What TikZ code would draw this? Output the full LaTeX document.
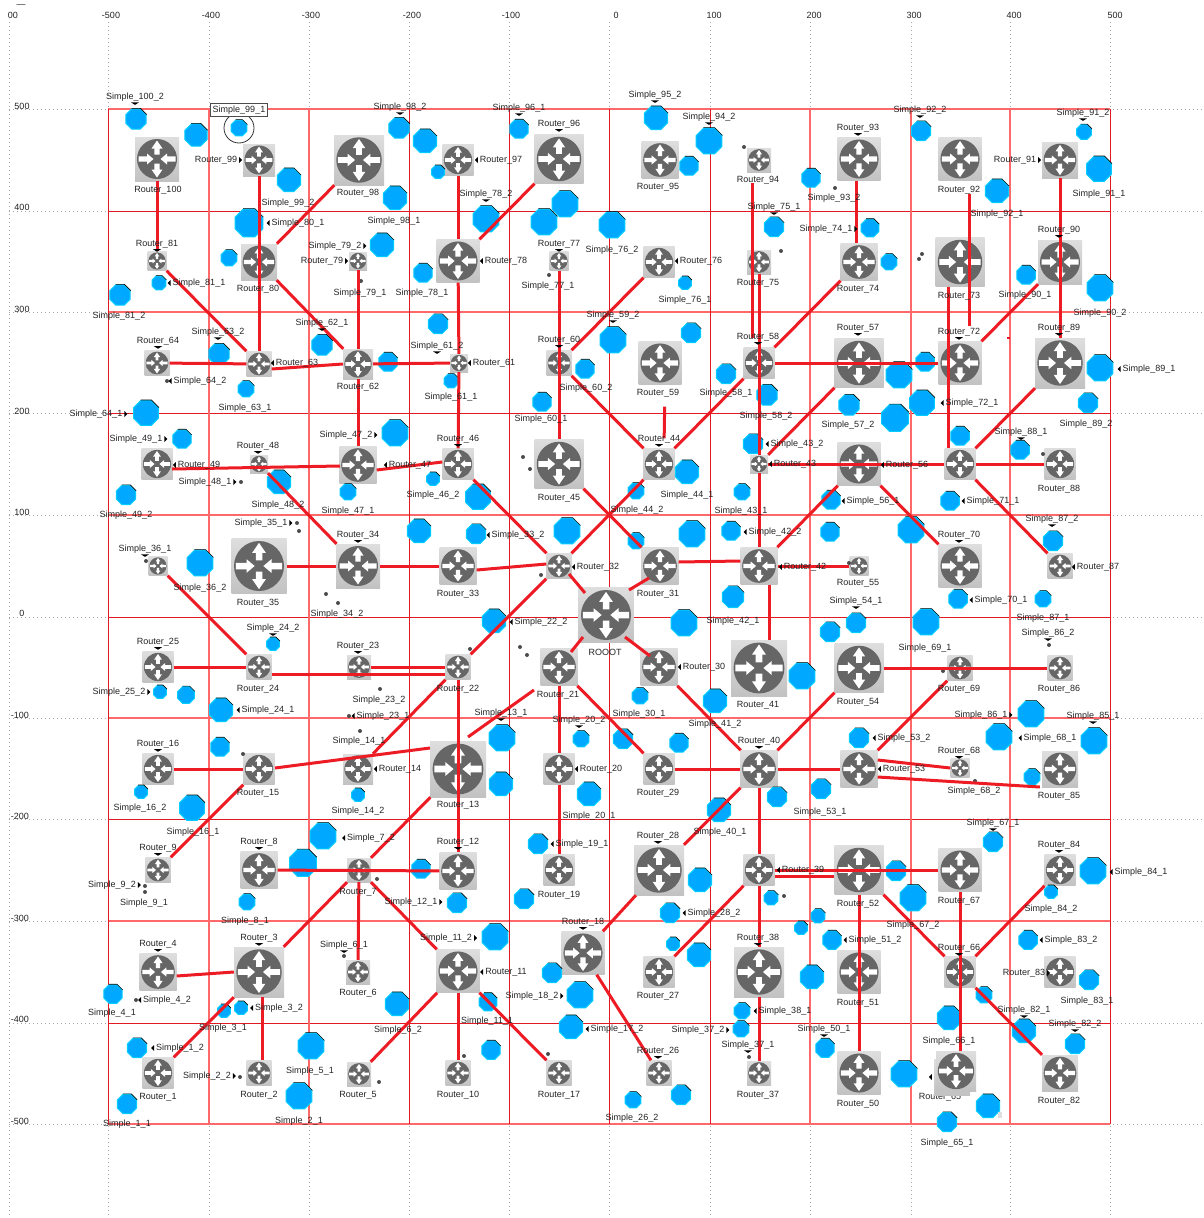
\documentclass[tikz,border=0pt]{standalone}
\usepackage{fontspec}
\setmainfont{Liberation Sans}
\usetikzlibrary{shapes.geometric}
\definecolor{linkred}{RGB}{237,28,36}
\definecolor{gridlight}{RGB}{255,105,105}
\definecolor{griddark}{RGB}{225,25,35}
\definecolor{simpleblue}{RGB}{0,168,255}
\definecolor{simpleedge}{RGB}{0,205,255}
\definecolor{facegray}{RGB}{102,102,102}
\definecolor{textgray}{RGB}{35,35,35}
\AtBeginDocument{\catcode`\_=12 }
\tikzset{
  griddot/.style={gray!70, line width=0.8pt, dash pattern=on 1pt off 3pt},
  gridsoft/.style={gridlight, line width=1.5pt},
  gridhard/.style={griddark, line width=0.9pt},
  link/.style={linkred, line width=3pt},
  lab/.style={inner sep=0pt, text=textgray, font=\fontsize{9}{11}\selectfont},
  axislab/.style={inner sep=0pt, text=textgray, font=\fontsize{9}{11}\selectfont},
  routerbox/.style={rectangle, inner sep=0pt, top color=gray!26, bottom color=gray!48},
  simplebox/.style={regular polygon, regular polygon sides=8, inner sep=0pt,
    fill=simpleblue, draw=simpleedge, line width=1pt},
  dotnode/.style={circle, inner sep=0pt, minimum size=4pt, fill=black!70},
  tipfill/.style={fill=black},
  pics/mkn/.style={code={}},
  pics/mkl/.style={code={\fill[tipfill] ([xshift=-2pt]#1.west) ++(0,-3) -- ++(0,6) -- ++(-3,-3) -- cycle;}},
  pics/mkr/.style={code={\fill[tipfill] ([xshift=2pt]#1.east) ++(0,-3) -- ++(0,6) -- ++(3,-3) -- cycle;}},
  pics/mkb/.style={code={\fill[tipfill] ([yshift=-1pt]#1.south) ++(-4,0) -- ++(8,0) -- ++(-4,2.5) -- cycle;}},
  pics/routerface/.style={code={
    \fill[facegray] (0,0) circle[radius=20];
    \foreach \a in {0,180} {
      \fill[white, rotate=\a] (-2.6,-4.5) -- (-2.6,-10.5) -- (-5.5,-10.5) -- (0,-18.5) -- (5.5,-10.5) -- (2.6,-10.5) -- (2.6,-4.5) -- cycle;
      \fill[white, rotate=\a] (-18.5,-2.6) -- (-10,-2.6) -- (-10,-5.5) -- (-3.5,0) -- (-10,5.5) -- (-10,2.6) -- (-18.5,2.6) -- cycle;
    }
  }}
}
\begin{document}
\begin{tikzpicture}[x=1pt, y=-1pt]
  \useasboundingbox (0,0) rectangle (1204,1218);

  \foreach \x in {9,108,209,309,409,509,609,710,810,911,1010,1110} {
    \draw[griddot] (\x,22) -- (\x,1218);
  }
  \foreach \y in {109,211,312,413.5,515,617,718,819.5,921,1023,1124} {
    \draw[griddot] (9,\y) -- (1204,\y);
  }
  \foreach \y in {109,312,515,718,921,1124} {
    \draw[gridsoft] (108,\y) -- (1110,\y);
  }
  \foreach \y in {211,413.5,617,819.5,1023} {
    \draw[gridhard] (108,\y) -- (1110,\y);
  }
  \foreach \x in {209,309,810,911,1010} {
    \draw[gridsoft] (\x,109) -- (\x,1124);
  }
  \foreach \x in {108,409,509,609,710,1110} {
    \draw[gridhard] (\x,109) -- (\x,1124);
  }
  \fill[griddark] (1007,337) rectangle (1010,339);

  \foreach \x/\y/\lab in {21/6/---,13/15/00,111/15/-500,211/15/-400,311/15/-300,412/15/-200,511/15/-100,616/15/0,714/15/100,814/15/200,914/15/300,1014/15/400,1115/15/500,
    22/106/500,22/207/400,22/309/300,22/411/200,22/512/100,22/613/0,20/715/-100,20/816/-200,20/918/-300,20/1019/-400,20/1121/-500} {
    \node[axislab] (ax\x-\y) at (\x,\y) {\lab};
  }

  \node[lab] (labRouter_65) at (940,1097) {Router_65};
  \node[routerbox, minimum size=36pt] (rb65) at (952,1077) {};
  \path pic {mkl={rb65}};

  \foreach \n/\x/\y/\w in {
    100/157/159/44,99/259/160/32,98/359/160/50,97/458/160/31,96/559/159/49,95/660/160/37,94/759/160/24,93/859/159/43,92/960/159/43,91/1060/160/36,
    81/157/261/19,80/259/262/36,79/358/261/18,78/458/261/43,77/559/261/19,76/659/262/31,75/759/262/24,74/859/262/37,73/960/262/49,90/1060/262/44,
    64/157/363/25,63/259/364/25,62/358/364/30,61/459/363/18,60/559/363/25,59/660/363/43,58/759/363/31,57/859/363/49,72/960/363/43,89/1060/363/50,
    49/157/464/31,48/259/464/18,47/358/465/37,46/458/464/31,45/559/464/49,44/659/464/31,43/759/464/18,56/859/464/43,71/960/464/31,88/1060/464/31,
    36/158/566/19,35/259/566/55,34/358/566/44,33/458/566/37,32/559/566/25,31/660/566/37,42/759/566/37,55/859/566/19,70/960/566/43,87/1060/566/25,
    0/606/615/55,
    25/158/667/31,24/259/667/25,23/359/667/24,22/458/667/25,21/559/667/37,30/659/667/37,41/759/668/56,54/859/668/49,69/960/668/25,86/1060/668/25,
    16/158/769/31,15/259/769/31,14/358/769/30,13/458/769/56,20/559/769/31,29/659/769/31,40/759/769/37,53/859/769/37,68/960/768/19,85/1060/769/36,
    9/158/870/25,8/259/870/37,7/359/870/24,12/458/871/37,19/559/870/31,28/659/870/50,39/759/870/31,52/859/870/49,67/960/870/43,84/1060/870/31,
    4/158/972/37,3/259/972/50,6/358/972/24,11/458/971/43,18/583/953/43,27/659/972/31,38/759/972/50,51/859/972/43,66/960/972/31,83/1060/972/31,
    1/158/1073/31,2/259/1073/25,5/359/1074/24,10/458/1073/25,17/559/1073/25,26/659/1073/25,37/759/1073/24,50/859/1073/43,65/956/1071/40,82/1060/1073/36} {
    \node[routerbox, minimum size=\w pt] (r\n) at (\x,\y) {};
    \path (\x,\y) pic[scale=\w/44] {routerface};
  }

  \foreach \x/\y/\d [count=\i] in {
    136/119/22,196/135/24,239/128/17,289/180/25,249/223/30,229/258/17,159/283/15,120/295/22,395/198/25,382/245/25,219/354/22,322/345/22,388/362/20,246/389/17,399/128/22,
    425/141/25,438/172/14,519/129/20,486/219/28,565/204/28,544/222/28,612/225/28,656/118/25,709/141/28,689/166/20,423/273/20,438/324/21,451/381/15,613/340/28,691/333/21,685/283/14,585/369/20,726/374/21,542/402/20,767/395/22,774/227/21,
    811/178/20,921/131/21,1084/132/16,1099/169/27,997/191/25,870/228/19,889/262/17,1026/275/20,1100/288/28,925/362/20,899/375/28,1100/368/28,849/405/22,922/403/27,1088/403/21,895/418/29,
    146/413/27,182/439/20,395/433/28,279/482/25,126/495/21,348/492/17,200/563/28,273/644/14,160/692/14,186/695/18,221/710/25,220/747/20,141/792/14,192/808/27,358/795/14,
    433/479/14,478/497/27,419/531/25,476/534/21,567/531/28,636/491/17,687/472/25,742/492/17,636/541/17,692/534/28,731/531/20,733/597/23,494/621/25,684/623/28,802/676/28,640/696/17,715/701/25,502/738/28,501/784/25,581/739/17,623/739/21,679/743/20,589/794/25,719/810/25,777/797/21,753/444/21,
    960/436/20,1020/450/20,831/500/20,950/501/20,830/532/20,911/530/28,1053/541/21,958/599/20,1043/599/17,830/632/21,856/623/21,926/622/28,1031/714/28,999/737/28,859/738/21,1094/741/28,1032/777/17,821/789/21,
    323/836/28,303/863/29,247/902/17,113/994/20,224/1011/14,241/1008/14,397/1004/25,137/1048/21,311/1046/28,127/1104/21,299/1096/28,
    421/869/20,457/903/21,524/899/21,538/844/21,700/880/25,670/913/21,495/937/28,673/944/14,699/955/25,552/973/21,580/995/28,488/1002/19,571/1027/25,491/1050/20,633/1100/17,681/1095/21,742/1011/17,741/1029/17,771/898/15,
    896/871/21,913/898/28,993/842/21,1093/871/28,1051/892/14,818/916/15,801/928/14,832/940/20,812/977/25,1028/940/20,1089/980/21,984/995/17,949/1018/25,1024/1031/25,1075/1044/21,825/1048/20,904/1074/28,988/1106/25,947/1122/21} {
    \node[simplebox, minimum size=\d pt] (s\i) at (\x,\y) {};
    \draw[black, line width=0.6pt] (s\i.corner 8) -- (s\i.corner 1) -- (s\i.corner 2);
  }
  \draw[black!80, line width=0.8pt] (s3) circle[radius=15];
  \fill[gray!25] (998,1112) rectangle (1002,1118);

  \foreach \x/\y [count=\i] in {
    744/147,781/251,549/275,835/188,922/254,919/259,361/281,167/381,241/482,297/523,299/531,146/561,326/594,338/603,380/689,349/716,360/731,243/754,
    523/457,530/469,541/575,470/649,520/647,527/655,1043/454,849/563,1049/645,943/671,975/781,
    145/886,145/892,377/879,344/956,136/1000,240/1077,379/1082,464/1056,548/1054,749/1057,784/896} {
    \node[dotnode] (d\i) at (\x,\y) {};
  }

  \foreach \a/\b in {100/81,98/80,97/78,96/78,91/89,90/72,89/71,74/58,76/60,58/72,58/44,57/43,60/44,77/45,81/63,80/62,64/63,62/61,79/62,78/61,61/46,62/47,48/34,46/32,45/31,44/32,35/34,34/33,75/43,43/42,56/42,43/71,71/88,71/87,56/70,42/55,22/32,36/24,25/24,23/22,22/14,22/12,16/15,15/9,21/20,21/29,20/19,29/40,30/40,40/54,40/53,40/39,40/28,53/69,54/86,39/67,39/27,39/38,38/37,28/18,18/26,8/12,7/13,7/3,7/6,7/11,3/1,11/5,11/10,11/17,52/50,52/66,84/66,66/82,99/63} {
    \draw[link] (r\a) -- (r\b);
  }
  \draw[link] (r67.south) -- ([shift={(4,0)}]r65.north);
  \draw[link, shorten <=11pt, shorten >=9pt] ([shift={(-7,0)}]r94.south) -- ([shift={(-7,0)}]r58.north);
  \draw[link] ([shift={(-3,0)}]r93.south) -- ([shift={(-3,0)}]r74.north);
  \draw[link, shorten <=13pt, shorten >=15pt] ([shift={(9,0)}]r92.south) -- ([shift={(9,0)}]r72.north);
  \draw[link] ([shift={(-12,0)}]r73.south) -- ([shift={(-12,0)}]r71.north);
  \draw[link, shorten <=22pt, shorten >=10pt] ([shift={(5,0)}]r59.south) -- ([shift={(5,0)}]r44.north);
  \draw[link] ([shift={(10,0)}]r42.south) -- ([shift={(10,0)}]r41.north);
  \draw[link] ([shift={(0,7)}]r24.east) -- ([shift={(0,7)}]r22.west);
  \draw[link] ([shift={(0,6)}]r39.east) -- ([shift={(0,6)}]r52.west);
  \draw[link] ([shift={(10,-32)}]r13.center) -- ([shift={(-25,23)}]r21.center);
  \draw[link] ([shift={(16,-1)}]r15.center) -- ([shift={(-28,-21)}]r13.center);
  \draw[link] ([shift={(15,5)}]r49.center) -- ([shift={(-18,1)}]r47.center);
  \draw[link] ([shift={(0,5)}]r63.east) -- (r62.west);
  \draw[link] ([shift={(0,4)}]r33.east) -- ([shift={(0,-2)}]r32.west);
  \draw[link] ([shift={(-11,12)}]r31.center) -- ([shift={(23,-25)}]r0.center);
  \draw[link] ([shift={(19,22)}]r0.center) -- ([shift={(-9,-11)}]r30.center);
  \draw[link] ([shift={(10,8)}]r32.center) -- ([shift={(-21,-22)}]r0.center);
  \draw[link] ([shift={(-23,22)}]r0.center) -- ([shift={(12,-15)}]r21.center);
  \draw[link] ([shift={(0,-9)}]r53.east) -- (r68.west);
  \draw[link] ([shift={(0,8)}]r53.east) -- ([shift={(-2,18)}]r85.west);
  \draw[link] ([shift={(0,-4)}]r31.east) -- ([shift={(0,-5)}]r42.west);
  \draw[link] ([shift={(0,4)}]r4.east) -- (r3.west);
  \draw[link] ([shift={(3,0)}]r3.south) -- ([shift={(3,0)}]r2.north);
  \draw[link] ([shift={(0,5)}]r47.east) -- ([shift={(0,-2)}]r46.west);

  \foreach \x/\y/\lab/\tip in {
    135/97/Simple_100_2/b,158/190/Router_100/n,216/160/Router_99/r,358/193/Router_98/n,288/203/Simple_99_2/n,298/223/Simple_80_1/l,157/244/Router_81/b,335/246/Simple_79_2/r,322/261/Router_79/r,258/289/Router_80/n,199/283/Simple_81_1/l,360/293/Simple_79_1/n,119/316/Simple_81_2/n,322/323/Simple_62_1/b,218/332/Simple_63_2/b,158/341/Router_64/b,297/363/Router_63/l,200/381/Simple_64_2/l,358/387/Router_62/n,400/107/Simple_98_2/b,394/221/Simple_98_1/n,422/293/Simple_78_1/n,
    519/108/Simple_96_1/b,559/124/Router_96/b,501/160/Router_97/l,655/95/Simple_95_2/b,709/117/Simple_94_2/b,658/187/Router_95/n,758/180/Router_94/n,486/194/Simple_78_2/b,774/207/Simple_75_1/b,559/244/Router_77/b,612/250/Simple_76_2/n,701/261/Router_76/l,506/261/Router_78/l,758/283/Router_75/n,548/286/Simple_77_1/n,685/300/Simple_76_1/n,613/315/Simple_59_2/b,437/346/Simple_61_2/b,559/340/Router_60/b,758/337/Router_58/b,494/363/Router_61/l,586/388/Simple_60_2/n,658/393/Router_59/n,726/393/Simple_58_1/n,451/397/Simple_61_1/n,
    858/128/Router_93/b,920/110/Simple_92_2/b,1083/113/Simple_91_2/b,1015/160/Router_91/r,959/190/Router_92/n,834/198/Simple_93_2/n,1099/194/Simple_91_1/n,997/214/Simple_92_1/n,1059/230/Router_90/b,826/229/Simple_74_1/r,858/289/Router_74/n,959/296/Router_73/n,1025/295/Simple_90_1/n,1100/313/Simple_90_2/n,858/328/Router_57/b,959/332/Router_72/b,1059/328/Router_89/b,1149/369/Simple_89_1/l,972/403/Simple_72_1/l,1086/424/Simple_89_2/n,848/425/Simple_57_2/n,1021/432/Simple_88_1/b,
    96/414/Simple_64_1/r,245/408/Simple_63_1/n,136/439/Simple_49_1/r,258/446/Router_48/b,346/435/Simple_47_2/r,199/465/Router_49/l,410/465/Router_47/l,205/482/Simple_48_1/r,278/505/Simple_48_2/n,348/511/Simple_47_1/n,126/515/Simple_49_2/n,261/523/Simple_35_1/r,358/535/Router_34/b,145/549/Simple_36_1/b,200/588/Simple_36_2/n,258/603/Router_35/n,337/614/Simple_34_2/n,273/628/Simple_24_2/b,158/642/Router_25/b,358/646/Router_23/b,258/689/Router_24/n,119/692/Simple_25_2/r,268/710/Simple_24_1/l,379/700/Simple_23_2/n,383/716/Simple_23_1/l,359/741/Simple_14_1/n,158/744/Router_16/b,258/793/Router_15/n,400/769/Router_14/l,358/811/Simple_14_2/n,140/808/Simple_16_2/n,
    541/419/Simple_60_1/n,458/439/Router_46/b,659/439/Router_44/b,766/416/Simple_58_2/n,797/444/Simple_43_2/l,795/464/Router_43/l,433/495/Simple_46_2/n,559/498/Router_45/n,687/495/Simple_44_1/n,637/510/Simple_44_2/n,741/511/Simple_43_1/n,518/535/Simple_33_2/l,775/532/Simple_42_2/l,598/567/Router_32/l,658/594/Router_31/n,458/594/Router_33/n,805/567/Router_42/l,858/583/Router_55/n,541/622/Simple_22_2/l,733/621/Simple_42_1/n,605/652/ROOOT/n,704/667/Router_30/l,458/689/Router_22/n,558/695/Router_21/n,758/705/Router_41/n,501/713/Simple_13_1/b,579/720/Simple_20_2/b,639/714/Simple_30_1/n,715/724/Simple_41_2/n,759/741/Router_40/b,601/769/Router_20/l,658/793/Router_29/n,458/805/Router_13/n,589/816/Simple_20_1/n,
    873/501/Simple_56_1/l,993/501/Simple_71_1/l,907/465/Router_56/l,1059/489/Router_88/n,1052/519/Simple_87_2/b,959/535/Router_70/b,1098/567/Router_87/l,1001/600/Simple_70_1/l,856/601/Simple_54_1/b,1043/618/Simple_87_1/n,1048/633/Simple_86_2/b,925/648/Simple_69_1/n,959/689/Router_69/n,1059/689/Router_86/n,858/702/Router_54/n,981/715/Simple_86_1/r,1093/716/Simple_85_1/b,904/738/Simple_53_2/l,1050/738/Simple_68_1/l,959/751/Router_68/b,904/769/Router_53/l,1059/796/Router_85/n,974/791/Simple_68_2/n,820/812/Simple_53_1/n,
    193/832/Simple_16_1/n,158/848/Router_9/b,259/842/Router_8/b,371/838/Simple_7_2/l,112/885/Simple_9_2/r,144/903/Simple_9_1/n,358/892/Router_7/n,245/921/Simple_8_1/n,259/938/Router_3/b,158/944/Router_4/b,344/945/Simple_6_1/b,358/993/Router_6/n,167/1000/Simple_4_2/l,279/1008/Simple_3_2/l,112/1013/Simple_4_1/n,223/1028/Simple_3_1/n,180/1048/Simple_1_2/l,310/1071/Simple_5_1/n,207/1076/Simple_2_2/r,158/1097/Router_1/n,259/1095/Router_2/n,358/1095/Router_5/n,127/1124/Simple_1_1/n,299/1121/Simple_2_1/n,398/1030/Simple_6_2/n,
    458/842/Router_12/b,582/844/Simple_19_1/l,559/895/Router_19/n,411/902/Simple_12_1/r,658/836/Router_28/b,720/832/Simple_40_1/n,803/870/Router_39/l,714/913/Simple_28_2/l,583/922/Router_18/b,446/938/Simple_11_2/r,758/938/Router_38/b,506/972/Router_11/l,658/996/Router_27/n,532/996/Simple_18_2/r,785/1011/Simple_38_1/l,487/1021/Simple_11_1/n,617/1029/Simple_17_2/l,698/1030/Simple_37_2/r,748/1045/Simple_37_1/b,658/1051/Router_26/b,458/1095/Router_10/n,559/1095/Router_17/n,758/1095/Router_37/n,632/1118/Simple_26_2/n,
    993/823/Simple_67_1/b,1059/845/Router_84/b,1141/872/Simple_84_1/l,858/904/Router_52/n,959/901/Router_67/n,1051/909/Simple_84_2/n,913/925/Simple_67_2/n,875/940/Simple_51_2/l,1071/940/Simple_83_2/l,959/948/Router_66/b,1024/973/Router_83/r,858/1003/Router_51/n,1087/1001/Simple_83_1/n,1024/1010/Simple_82_1/b,1075/1024/Simple_82_2/b,824/1029/Simple_50_1/b,949/1041/Simple_66_1/n,858/1104/Router_50/n,1059/1101/Router_82/n,947/1143/Simple_65_1/n} {
    \node[lab] (lab\lab) at (\x,\y) {\lab};
    \path pic {mk\tip={lab\lab}};
  }
  \node[lab, draw=black!70, line width=0.7pt, fill=white, inner sep=2pt] (labSimple_99_1) at (239,110) {Simple_99_1};
\end{tikzpicture}
\end{document}
